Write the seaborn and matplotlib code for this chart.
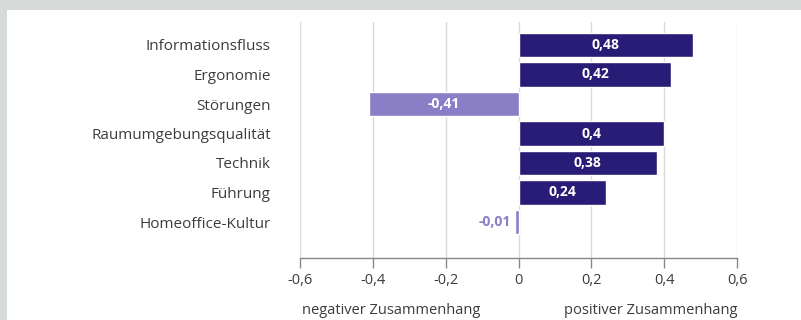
import matplotlib
matplotlib.use("Agg")
import matplotlib.pyplot as plt
import seaborn as sns
import pandas as pd

categories = ["Informationsfluss", "Ergonomie", "Störungen", "Raumumgebungsqualität",
              "Technik", "Führung", "Homeoffice-Kultur"]
values = [0.48, 0.42, -0.41, 0.40, 0.38, 0.24, -0.01]
value_labels = ["0,48", "0,42", "-0,41", "0,4", "0,38", "0,24", "-0,01"]
xticks = [-0.6, -0.4, -0.2, 0, 0.2, 0.4, 0.6]
xtick_labels = ["-0,6", "-0,4", "-0,2", "0", "0,2", "0,4", "0,6"]

DARK = "#281c76"
LIGHT = "#8a7ec6"
TEXT = "#3c3c3c"

sns.set_style("white")
plt.rcParams["font.family"] = ["Open Sans", "DejaVu Sans"]

df = pd.DataFrame({"cat": categories, "val": values,
                   "sign": ["pos" if v >= 0 else "neg" for v in values]})

fig = plt.figure(figsize=(8.01, 3.20), dpi=100)
fig.patch.set_facecolor("#d6dbd9")
# white panel
fig.add_artist(plt.Rectangle((7 / 801, 0), 1, 1 - 10 / 320, transform=fig.transFigure,
                             facecolor="white", edgecolor="none", zorder=0))
ax = fig.add_axes([300 / 801, 1 - 258 / 320, (737 - 300) / 801, (258 - 22) / 320])
ax.set_facecolor("none")

sns.barplot(data=df, y="cat", x="val", hue="sign", palette={"pos": DARK, "neg": LIGHT},
            orient="h", width=0.82, legend=False, ax=ax, zorder=3, saturation=1)

ax.set_xlim(-0.6, 0.6)
ax.set_ylim(7 - 1 + 36 / 29.5, -23 / 29.5)
ax.set_xticks(xticks)
ax.set_xticklabels(xtick_labels, fontsize=10.5, color=TEXT)
ax.tick_params(axis="x", bottom=True, direction="out", length=7, width=1,
               color="#888888", pad=4)
ax.tick_params(axis="y", left=False, length=0, pad=21, labelsize=11, labelcolor=TEXT)
ax.set_xlabel("")
ax.set_ylabel("")
for x in xticks:
    ax.axvline(x, color="#dadada", lw=1, zorder=1)
for s in ["top", "right", "left"]:
    ax.spines[s].set_visible(False)
ax.spines["bottom"].set_color("#888888")
ax.spines["bottom"].set_linewidth(1)

for i, (v, lab) in enumerate(zip(values, value_labels)):
    if abs(v) > 0.05:
        ax.text(v / 2, i, lab, ha="center", va="center", color="white",
                fontsize=10, fontweight="bold", zorder=5)
    else:
        ax.text(v - 0.012, i, lab, ha="right", va="center", color=LIGHT,
                fontsize=10, fontweight="bold", zorder=5)

fig.text(302 / 801, 1 - 311 / 320, "negativer Zusammenhang", ha="left", va="center",
         fontsize=10.5, color=TEXT)
fig.text(737 / 801, 1 - 311 / 320, "positiver Zusammenhang", ha="right", va="center",
         fontsize=10.5, color=TEXT)

fig.savefig("out.png", dpi=100, facecolor=fig.get_facecolor())
